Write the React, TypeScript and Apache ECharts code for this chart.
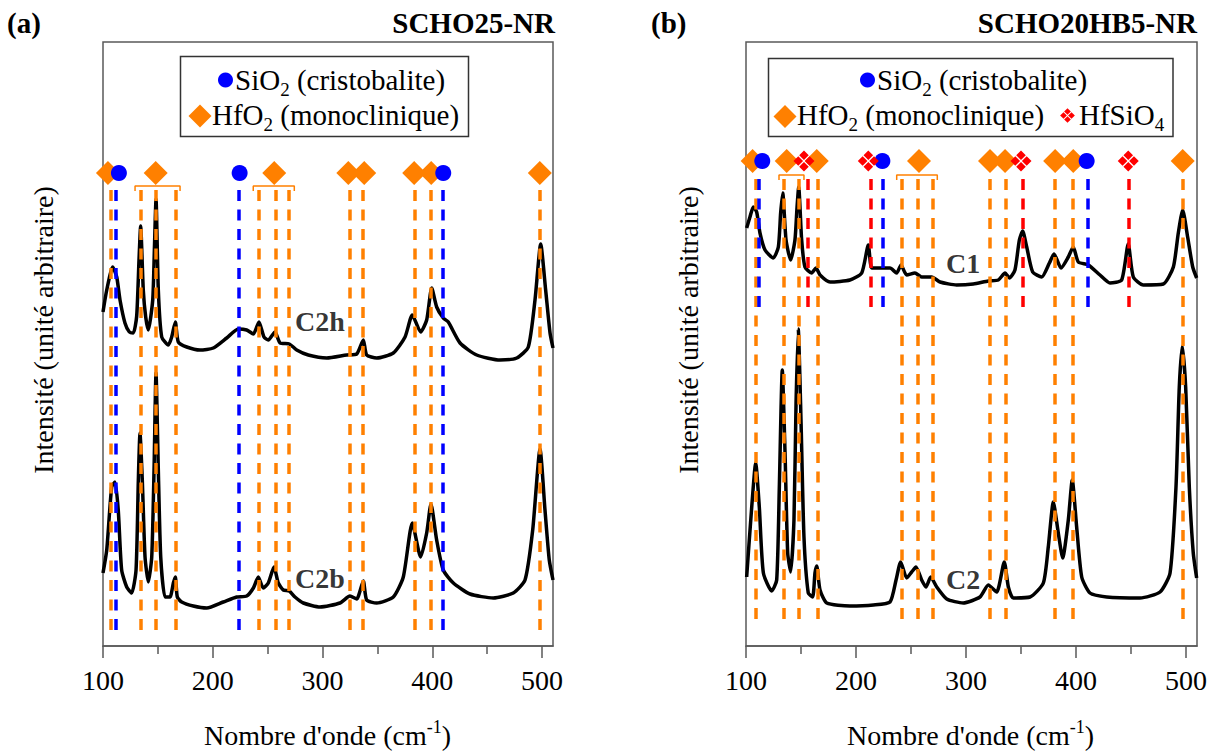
import React, { useEffect, useRef } from "react";
import * as echarts from "echarts";

const FONT = "Liberation Serif, Times New Roman, serif";
const ORANGE = "#ff8000";
const BLUE = "#0000ff";
const RED = "#ff0000";
const AXIS = "#595959";

// ---------- Panel (a) SCHO25-NR : Raman spectra [wavenumber cm-1, intensity a.u.] ----------
const specC2h: number[][] = [
  [100, 334], [103.4, 356], [108.8, 379], [112.5, 369], [115.5, 346], [120, 323], [124, 314], [127.6, 313],
  [130.7, 330], [132.8, 386], [134.3, 420], [136.7, 356], [138.9, 329], [141.3, 316], [145.3, 346], [146.8, 396],
  [148.3, 447], [150.4, 356], [153.5, 309], [159.5, 301], [162.6, 309], [165.9, 324], [168.6, 304], [176.3, 299],
  [188.4, 296], [200.5, 298], [212.7, 308], [223.3, 317], [230.9, 316], [237, 312], [242.1, 324], [246.7, 309],
  [250.6, 306], [256.7, 314], [261.3, 303], [269.8, 302], [276.5, 296], [287, 291], [303.8, 288], [322, 291],
  [331.1, 292], [337.2, 306], [340.2, 291], [349.4, 288], [364.5, 293], [375.2, 309], [381.8, 331], [389.4, 314],
  [394.9, 326], [399.5, 358], [404, 339], [410, 328], [414.6, 324], [425.3, 303], [440.5, 291], [461.7, 286],
  [477, 288], [487.5, 299], [493.6, 346], [498.8, 402], [503.3, 356], [507.3, 313], [510, 298],
];
const specC2b: number[][] = [
  [100, 73], [103.4, 96], [107.9, 159], [110.9, 164], [113.9, 136], [117, 76], [121.6, 59], [126.1, 53],
  [130.1, 76], [132.2, 166], [133.7, 213], [135.8, 166], [138.3, 89], [141.3, 64], [144.4, 89], [146.5, 176],
  [148.3, 273], [150.4, 176], [152.6, 89], [156.5, 49], [161, 49], [164.1, 63], [165.9, 69], [167.7, 49],
  [171.7, 44], [182.3, 40], [194.5, 38], [209.6, 44], [221.8, 49], [230.9, 50], [237, 58], [241.5, 69],
  [246, 58], [250.6, 63], [255.8, 79], [259.7, 63], [264.3, 56], [269.7, 55], [274.9, 49], [282.5, 43],
  [297.7, 39], [315.9, 43], [325, 50], [331.1, 47], [337.2, 65], [340.2, 46], [349.4, 43], [364.5, 49],
  [373.6, 69], [381.8, 123], [389.4, 89], [394.9, 113], [398.8, 142], [404, 106], [410, 76], [419.2, 63],
  [434.4, 52], [455.6, 48], [473.8, 53], [484.5, 66], [491.5, 116], [498.2, 197], [502.7, 136], [506.6, 86],
  [510, 66],
];

// ---------- Panel (b) SCHO20HB5-NR ----------
const specC1: number[][] = [
  [100.6, 418], [103.6, 429], [106.6, 439], [109.7, 434], [112.7, 413], [117.3, 396], [124.8, 388], [129.4, 399],
  [131.5, 433], [133.4, 453], [136.4, 406], [140.6, 386], [144.5, 406], [146.4, 439], [147.9, 459], [150.6, 406],
  [153.6, 379], [159.7, 373], [163.6, 378], [167.3, 371], [176.4, 364], [194.5, 366], [205.2, 373], [211.2, 401],
  [214.3, 378], [221.8, 378], [230.9, 378], [237, 373], [240.9, 381], [246.1, 371], [253.6, 373], [259.7, 369],
  [268.8, 369], [276.4, 364], [291.5, 361], [306.6, 362], [320.3, 365], [329.4, 366], [335.5, 373], [339.4, 368],
  [344.5, 376], [348.5, 406], [351.5, 415], [355.2, 399], [360.6, 374], [368.8, 369], [375.8, 383], [380, 392],
  [386.4, 378], [393, 389], [397.5, 399], [402.1, 384], [411.2, 381], [421.8, 371], [430.9, 363], [441.5, 366],
  [447.5, 402], [452.1, 369], [461.2, 361], [479.4, 362], [488.5, 379], [493, 413], [497, 436], [501.5, 409],
  [506.1, 379], [509.7, 368],
];
const specC2: number[][] = [
  [100.6, 69], [105.2, 139], [108.8, 183], [112.1, 139], [115.8, 73], [123.4, 55], [127.9, 66], [130.3, 159],
  [133, 276], [135.5, 193], [137.9, 93], [140.6, 74], [143.6, 126], [145.5, 243], [147.5, 317], [150, 226],
  [152.7, 109], [156.6, 53], [160.6, 49], [162.7, 73], [164.3, 80], [167.3, 56], [173.4, 43], [194.5, 40],
  [215.8, 41], [230.9, 44], [236.4, 66], [240.6, 84], [246.1, 68], [250.6, 74], [254.5, 79], [259.7, 66],
  [263.6, 59], [267.9, 69], [273.4, 59], [282.5, 47], [297.5, 43], [312.7, 49], [320.3, 61], [327.9, 54],
  [334.8, 84], [338.5, 59], [343, 48], [358.2, 49], [370.3, 63], [374.8, 99], [379.4, 144], [383.9, 113],
  [387.9, 88], [393, 126], [396.6, 166], [400.6, 119], [405.2, 69], [412.7, 53], [427.9, 49], [458.2, 48],
  [476.4, 54], [485.5, 73], [490.9, 159], [493.9, 259], [496.6, 300], [499.7, 259], [503, 159], [506.6, 93],
  [509.7, 68],
];

// ---------- Reference band positions (cm-1) ----------
const aHfO2Lines = [107, 134.5, 148, 166, 242, 257.5, 269, 325, 337, 384, 399, 498];
const aSiO2Lines = [112, 224, 410];
const aHfO2Marks = [104.5, 148, 256, 323.5, 338, 383.5, 399, 498];
const aSiO2Marks = [114.5, 224.5, 410];
const aBrackets = [[129.2, 170.2], [236.9, 274.3]];

const bHfO2Lines = [108.5, 134, 148, 165, 242, 256, 269.5, 322, 336, 381, 397, 497];
const bSiO2Lines = [112, 224.3, 410.3];
const bHfSiO4Lines = [155.7, 213.6, 351.5, 448.2];
const bHfO2Marks = [106, 137, 164.3, 257.3, 321.8, 335.5, 381, 397.5, 497];
const bSiO2Marks = [114.8, 224, 409.7];
const bHfSiO4Marks = [152.7, 211.2, 350, 447.5];
const bBrackets = [[130, 152.7], [237, 273.9]];

const xTicks = [100, 200, 300, 400, 500];
const xMinorTicks = [150, 250, 350, 450];

const curveLabelsA: (number | string)[][] = [[297.7, 325, "C2h"], [297.7, 68, "C2b"]];
const curveLabelsB: (number | string)[][] = [[297.3, 383, "C1"], [297.3, 67, "C2"]];

// ---------- helpers ----------
const CLUSTER_PATH =
  "path://M0,-9.2L4.2,-5L0,-0.8L-4.2,-5Z M5,-4.2L9.2,0L5,4.2L0.8,0Z M0,0.8L4.2,5L0,9.2L-4.2,5Z M-5,-4.2L-0.8,0L-5,4.2L-9.2,0Z";

const dashLines = (xs: number[], top: number, bottom: number) =>
  xs.map((x) => [{ coord: [x, top] }, { coord: [x, bottom] }]);

function phaseSeries(
  grid: number,
  marks: number[],
  lines: number[],
  yMark: number,
  top: number,
  bottom: number,
  color: string,
  symbol: string,
  size: number
) {
  return {
    type: "scatter",
    xAxisIndex: grid * 2,
    yAxisIndex: grid,
    data: marks.map((x) => [x, yMark]),
    symbol,
    symbolSize: size,
    itemStyle: { color, opacity: 1 },
    silent: true,
    z: 5,
    markLine: {
      silent: true,
      symbol: ["none", "none"],
      label: { show: false },
      emphasis: { disabled: true },
      lineStyle: { color, width: 3.5, type: [11, 8.5], opacity: 1 },
      data: dashLines(lines, top, bottom),
    },
  };
}

function spectrum(grid: number, data: number[][]) {
  return {
    type: "line",
    xAxisIndex: grid * 2,
    yAxisIndex: grid,
    data,
    showSymbol: false,
    symbol: "none",
    smooth: 0.2,
    silent: true,
    z: 2,
    lineStyle: { color: "#000", width: 3.5 },
  };
}

function brackets(grid: number, spans: number[][], y: number) {
  return spans.map((s) => ({
    type: "line",
    xAxisIndex: grid * 2,
    yAxisIndex: grid,
    data: [[s[0], y - 5], [s[0], y], [s[1], y], [s[1], y - 5]],
    showSymbol: false,
    symbol: "none",
    silent: true,
    z: 4,
    lineStyle: { color: ORANGE, width: 1.5 },
  }));
}

function labelSeries(grid: number, data: (number | string)[][]) {
  return {
    type: "scatter",
    xAxisIndex: grid * 2,
    yAxisIndex: grid,
    data,
    symbolSize: 1,
    itemStyle: { color: "rgba(0,0,0,0)" },
    silent: true,
    z: 6,
    label: {
      show: true,
      position: "inside",
      formatter: (p: any) => p.value[2],
      fontSize: 28,
      fontWeight: "bold",
      fontFamily: FONT,
      color: "#000",
    },
  };
}

const xAxes = (grid: number) => [
  {
    gridIndex: grid,
    type: "value",
    min: 100,
    max: 510,
    position: "bottom",
    axisLine: { show: true, onZero: false, lineStyle: { color: AXIS, width: 1.5 } },
    axisTick: { show: true, inside: false, length: 12, customValues: xTicks, lineStyle: { color: AXIS, width: 1.5 } },
    axisLabel: { show: true, customValues: xTicks, fontSize: 28, fontFamily: FONT, color: "#000", margin: 20 },
    splitLine: { show: false },
  },
  {
    gridIndex: grid,
    type: "value",
    min: 100,
    max: 510,
    position: "bottom",
    axisLine: { show: false, onZero: false },
    axisTick: { show: true, inside: false, length: 8, customValues: xMinorTicks, lineStyle: { color: AXIS, width: 1.5 } },
    axisLabel: { show: false },
    splitLine: { show: false },
  },
];

const yAxis = (grid: number) => ({
  gridIndex: grid,
  type: "value",
  min: 0,
  max: 604,
  axisLine: { show: false },
  axisTick: { show: false },
  axisLabel: { show: false },
  splitLine: { show: false },
});

const subRich = {
  n: { fontSize: 29, fontFamily: FONT, lineHeight: 38, fill: "#000" },
  s: { fontSize: 19, fontFamily: FONT, lineHeight: 19, verticalAlign: "bottom", fill: "#000" },
};
const supRich = {
  n: { fontSize: 28, fontFamily: FONT, lineHeight: 34, fill: "#000" },
  p: { fontSize: 18, fontFamily: FONT, lineHeight: 18, verticalAlign: "top", fill: "#000" },
};

const diamondPts = (cx: number, cy: number, h: number) => [
  [cx, cy - h],
  [cx + h, cy],
  [cx, cy + h],
  [cx - h, cy],
];

function clusterGraphic(cx: number, cy: number, R: number) {
  const o = R / 2;
  const h = (R / 2) * 0.84;
  const centers = [
    [cx, cy - o],
    [cx + o, cy],
    [cx, cy + o],
    [cx - o, cy],
  ];
  return centers.map((c) => ({
    type: "polygon",
    z: 12,
    shape: { points: diamondPts(c[0], c[1], h) },
    style: { fill: RED },
  }));
}

function legendText(x: number, y: number, text: string) {
  return {
    type: "text",
    x,
    y,
    z: 11,
    style: { text, align: "left", verticalAlign: "middle", rich: subRich, fontFamily: FONT, fontSize: 29 },
  };
}

const titleStyle = { fontFamily: FONT, fontSize: 29, fontWeight: "bold", fill: "#000", verticalAlign: "middle" };

const graphics: any[] = [
  // panel titles
  { type: "text", x: 7, y: 23, style: { ...titleStyle, text: "(a)", align: "left" } },
  { type: "text", x: 555, y: 23, style: { ...titleStyle, text: "SCHO25-NR", align: "right" } },
  { type: "text", x: 651, y: 23, style: { ...titleStyle, text: "(b)", align: "left" } },
  { type: "text", x: 1197, y: 23, style: { ...titleStyle, text: "SCHO20HB5-NR", align: "right" } },
  // axis titles
  { type: "text", x: 43.5, y: 330, rotation: Math.PI / 2, style: { text: "Intensité (unité arbitraire)", fontFamily: FONT, fontSize: 28, fill: "#000", align: "center", verticalAlign: "middle" } },
  { type: "text", x: 688, y: 330, rotation: Math.PI / 2, style: { text: "Intensité (unité arbitraire)", fontFamily: FONT, fontSize: 28, fill: "#000", align: "center", verticalAlign: "middle" } },
  { type: "text", x: 327.5, y: 735, style: { text: "{n|Nombre d'onde (cm}{p|-1}{n|)}", rich: supRich, fontFamily: FONT, fontSize: 28, align: "center", verticalAlign: "middle" } },
  { type: "text", x: 970.5, y: 735, style: { text: "{n|Nombre d'onde (cm}{p|-1}{n|)}", rich: supRich, fontFamily: FONT, fontSize: 28, align: "center", verticalAlign: "middle" } },
  // legend (a)
  { type: "rect", z: 10, shape: { x: 180.5, y: 56.5, width: 288, height: 80 }, style: { fill: "#fff", stroke: "#333", lineWidth: 1.5 } },
  { type: "circle", z: 11, shape: { cx: 225.5, cy: 80, r: 7.5 }, style: { fill: BLUE } },
  legendText(235, 80, "{n|SiO}{s|2}{n| (cristobalite)}"),
  { type: "polygon", z: 11, shape: { points: diamondPts(200, 116, 11.5) }, style: { fill: ORANGE } },
  legendText(212, 115, "{n|HfO}{s|2}{n| (monoclinique)}"),
  // legend (b)
  { type: "rect", z: 10, shape: { x: 768.5, y: 58.5, width: 404.5, height: 78 }, style: { fill: "#fff", stroke: "#333", lineWidth: 1.5 } },
  { type: "circle", z: 11, shape: { cx: 867.5, cy: 80, r: 7.5 }, style: { fill: BLUE } },
  legendText(877, 80, "{n|SiO}{s|2}{n| (cristobalite)}"),
  { type: "polygon", z: 11, shape: { points: diamondPts(785, 116.5, 11.5) }, style: { fill: ORANGE } },
  legendText(797, 115, "{n|HfO}{s|2}{n| (monoclinique)}"),
  ...clusterGraphic(1067.5, 115.5, 8),
  legendText(1079, 115, "{n|HfSiO}{s|4}"),
];

const option: any = {
  animation: false,
  backgroundColor: "#fff",
  textStyle: { fontFamily: FONT },
  grid: [
    { left: 103, top: 42, width: 450, height: 604, show: true, borderColor: AXIS, borderWidth: 1.5, backgroundColor: "transparent" },
    { left: 746, top: 42, width: 451, height: 604, show: true, borderColor: AXIS, borderWidth: 1.5, backgroundColor: "transparent" },
  ],
  xAxis: [...xAxes(0), ...xAxes(1)],
  yAxis: [yAxis(0), yAxis(1)],
  series: [
    spectrum(0, specC2h),
    spectrum(0, specC2b),
    spectrum(1, specC1),
    spectrum(1, specC2),
    ...brackets(0, aBrackets, 460),
    ...brackets(1, bBrackets, 471),
    phaseSeries(0, aHfO2Marks, aHfO2Lines, 473, 456, 16, ORANGE, "diamond", 24),
    phaseSeries(0, aSiO2Marks, aSiO2Lines, 473, 456, 16, BLUE, "circle", 16),
    phaseSeries(1, bHfO2Marks, bHfO2Lines, 485, 467, 23, ORANGE, "diamond", 24),
    phaseSeries(1, bSiO2Marks, bSiO2Lines, 485, 467, 339, BLUE, "circle", 16),
    phaseSeries(1, bHfSiO4Marks, bHfSiO4Lines, 485, 467, 339, RED, CLUSTER_PATH, 21),
    labelSeries(0, curveLabelsA),
    labelSeries(1, curveLabelsB),
  ],
  graphic: graphics,
};

export default function App() {
  const ref = useRef<HTMLDivElement>(null);
  useEffect(() => {
    if (!ref.current) return;
    const chart = echarts.init(ref.current, null, { renderer: "svg" });
    chart.setOption(option);
    return () => chart.dispose();
  }, []);
  return (
    <div
      ref={ref}
      style={{ position: "absolute", left: 0, top: 0, width: 1217, height: 755, background: "#fff" }}
    />
  );
}
